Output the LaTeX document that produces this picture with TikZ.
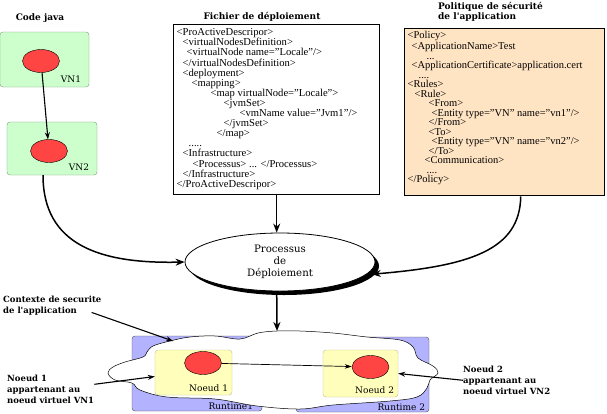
\documentclass[tikz,border=0pt]{standalone}
\usepackage{fontspec}
\setmainfont{Liberation Serif}
\newfontfamily\dejavu{DejaVu Serif}
\usepackage{tikz}
\usetikzlibrary{shapes.geometric, arrows.meta, shadows}
\definecolor{vertvn}{RGB}{204,255,204}
\definecolor{bordvn}{RGB}{120,150,120}
\definecolor{rouge}{RGB}{255,68,68}
\definecolor{peche}{RGB}{255,228,196}
\definecolor{bleurt}{RGB}{178,178,255}
\definecolor{jaune}{RGB}{255,255,187}
\definecolor{bordjaune}{RGB}{190,190,140}
\tikzset{
  vnbox/.style={draw=bordvn, fill=vertvn, rounded corners=3pt},
  noeudbox/.style={draw=bordjaune, fill=jaune, rounded corners=3pt},
  runtime/.style={draw=black!70, fill=bleurt, rounded corners=3pt},
  objet/.style={ellipse, draw, fill=rouge, minimum width=37pt, minimum height=23pt, inner sep=0pt},
  codebox/.style={draw, line width=1.4pt, anchor=north west, inner xsep=3pt, inner ysep=4pt,
    font=\fontsize{10.6}{10.1}\selectfont},
  titre/.style={font=\dejavu\bfseries\fontsize{9}{10.5}\selectfont, align=left, inner sep=0pt},
  legende/.style={font=\dejavu\bfseries\fontsize{8.5}{10.8}\selectfont, align=left, inner sep=0pt},
  etiq/.style={font=\dejavu\fontsize{9}{11}\selectfont, inner sep=0pt},
  fleche/.style={line width=1.5pt, -{Stealth[length=9pt, width=7pt]}},
  moyenne/.style={line width=1.1pt, -{Stealth[length=7pt, width=5pt]}},
  fine/.style={line width=0.7pt, -{Stealth[length=7pt, width=4.5pt]}},
}
\begin{document}
\begin{tikzpicture}[x=1pt, y=-1pt]
\useasboundingbox (0,0) rectangle (607,413);
% code java
\node[titre] (titreJava) at (40,18) {Code java};
\node[vnbox, minimum width=89pt, minimum height=55pt] (vnA) at (44.5,59.5) {};
\node[objet] (objA) at (41,61) {};
\node[etiq, anchor=south east] at ([shift={(-8pt,4pt)}]vnA.south east) {VN1};
\node[vnbox, minimum width=90pt, minimum height=53pt] (vnB) at (52,148.5) {};
\node[objet] (objB) at (49,151) {};
\node[etiq, anchor=south east] at ([shift={(-8pt,4pt)}]vnB.south east) {VN2};
\draw[moyenne] (objA) -- (objB);
% fichier de deploiement
\node[titre] (titreFichier) at (262,17) {Fichier de déploiement};
\node[codebox] (fichier) at (173,24) {\parbox[t][162pt][t]{200pt}{%
<ProActiveDescripor>\\
\hspace*{6pt}<virtualNodesDefinition>\\
\hspace*{10pt}<virtualNode name="Locale"/>\\
\hspace*{6pt}</virtualNodesDefinition>\\
\hspace*{6pt}<deployment>\\
\hspace*{15pt}<mapping>\\
\hspace*{34pt}<map virtualNode="Locale">\\
\hspace*{47pt}<jvmSet>\\
\hspace*{63pt}<vmName value="Jvm1"/>\\
\hspace*{47pt}</jvmSet>\\
\hspace*{40pt}</map>\\
\hspace*{12pt}.....\\
\hspace*{6pt}<Infrastructure>\\
\hspace*{16pt}<Processus> ... </Processus>\\
\hspace*{6pt}</Infrastructure>\\
</ProActiveDescripor>}};
% politique de securite
\node[titre, anchor=north west] (titrePol) at (438,2) {Politique de sécurité\\de l'application};
\node[codebox, fill=peche, inner ysep=3pt] (politique) at (404,28) {\parbox[t][161pt][t]{194pt}{%
\fontsize{10.5}{9.5}\selectfont
<Policy>\\
\hspace*{4pt}<ApplicationName>Test\\
\hspace*{19pt}...\\
\hspace*{4pt}<ApplicationCertificate>application.cert\\
\hspace*{11pt}....\\
<Rules>\\
\hspace*{7pt}<Rule>\\
\hspace*{21pt}<From>\\
\hspace*{24pt}<Entity type="VN" name="vn1"/>\\
\hspace*{21pt}</From>\\
\hspace*{21pt}<To>\\
\hspace*{24pt}<Entity type="VN" name="vn2"/>\\
\hspace*{21pt}</To>\\
\hspace*{17pt}<Communication>\\
\hspace*{19pt}....\\
</Policy>}};
% processus
\node[ellipse, draw, fill=white, line width=0.8pt, minimum width=190pt, minimum height=58pt,
  drop shadow={shadow xshift=4pt, shadow yshift=-4pt, fill=black, opacity=1},
  etiq, font=\dejavu\fontsize{10.2}{11.8}\selectfont, align=center] (procDepl) at (280,262)
  {Processus\\de\\Déploiement};
\draw[fleche] (fichier.south) -- (fichier.south |- procDepl.north);
\draw[fleche] ([xshift=-9pt]vnB.south) .. controls (43,245) and (100,264) .. (procDepl.west);
\draw[fleche] ([xshift=16pt]politique.south) .. controls (520,250) and (470,266) .. ([xshift=5pt]procDepl.-8);
% runtimes et contexte
\node[runtime, minimum width=130pt, minimum height=75pt] (rtA) at (197,373.5) {};
\node[runtime, minimum width=133pt, minimum height=75pt] (rtB) at (362.5,374.5) {};
\node[etiq, anchor=south east] at ([shift={(-9pt,1pt)}]rtA.south east) {Runtime1};
\node[etiq, anchor=south east] at ([shift={(-4pt,1pt)}]rtB.south east) {Runtime 2};
\draw[fill=white, line width=0.5pt] plot [smooth cycle, tension=0.6] coordinates { %
	(147,352) (153,346) (170,341) (190,337) (215,336) (240,339) (258,333) (277,331)
	(300,331) (333,333) (367,337) (400,340) (413,347) (418,358) (433,366) (438,373)
	(430,380) (427,388) (417,397) (390,401) (333,405) (300,409) (257,406) (215,399)
	(167,397) (140,390) (132,383) (115,380) (108,373) (113,367) (125,362) (143,357)
	};
\coordinate (nuageHaut) at (277,331);
\coordinate (ctxPoint) at (173,341);
\draw[fleche] (fichier.south |- procDepl.south) -- (nuageHaut);
% noeuds
\node[noeudbox, minimum width=77pt, minimum height=45pt] (noeudA) at (193.5,372.5) {};
\node[objet] (objC) at (203,363) {};
\node[etiq, anchor=south east] at ([shift={(-4pt,3pt)}]noeudA.south east) {Noeud 1};
\node[noeudbox, minimum width=75pt, minimum height=47pt] (noeudB) at (360.5,373.5) {};
\node[objet] (objD) at (370.5,367) {};
\node[etiq, anchor=south east] at ([shift={(-4pt,3pt)}]noeudB.south east) {Noeud 2};
\draw[fine] (objC) -- (objD);
% legendes
\node[legende, anchor=north west] (ctxLab) at (3,296) {Contexte de securite\\de l'application};
\node[legende, anchor=north west] (labN1) at (7,375) {Noeud 1\\appartenant au\\noeud virtuel VN1};
\node[legende, anchor=north west] (labN2) at (463,366) {Noeud 2\\appartenant au\\noeud virtuel VN2};
\draw[moyenne] ([shift={(-10pt,3pt)}]ctxLab.south east) -- (ctxPoint);
\draw[moyenne] ([yshift=5pt]labN1.east) -- ([yshift=-4pt]noeudA.west);
\draw[moyenne] (labN2.west) -- (noeudB.east);
\end{tikzpicture}
\end{document}
